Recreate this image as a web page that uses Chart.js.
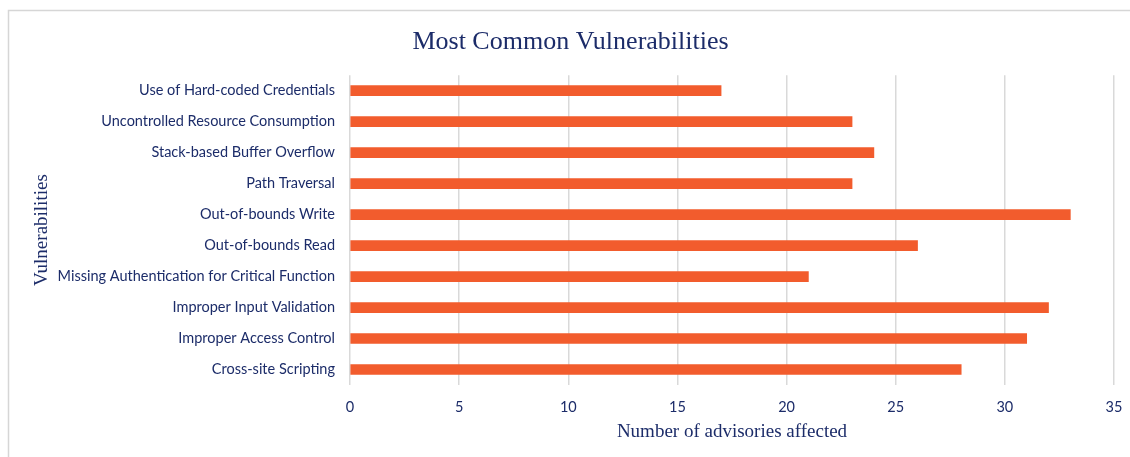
<!DOCTYPE html>
<html>
<head>
<meta charset="utf-8">
<script src="https://cdn.jsdelivr.net/npm/chart.js@4"></script>
<style>
  html, body { margin: 0; padding: 0; background: #ffffff; }
  #wrap { width: 1130px; height: 457px; }
</style>
</head>
<body>
<div id="wrap"><canvas id="chart1" width="1130" height="457"></canvas></div>
<script>
// vulnerability types, top to bottom
var categories = [
  "Use of Hard-coded Credentials",
  "Uncontrolled Resource Consumption",
  "Stack-based Buffer Overflow",
  "Path Traversal",
  "Out-of-bounds Write",
  "Out-of-bounds Read",
  "Missing Authentication for Critical Function",
  "Improper Input Validation",
  "Improper Access Control",
  "Cross-site Scripting",
];
var advisories = [17, 23, 24, 23, 33, 26, 21, 32, 31, 28];
var xTicks = [0, 5, 10, 15, 20, 25, 30, 35];

var navy = "#1c2c69";
var serif = "'Liberation Serif', 'DejaVu Serif', serif";
var sans = "Lato, 'Open Sans', sans-serif";

// thin grey frame around the whole chart
var frame = {
  id: "frame",
  beforeDraw: function (chart) {
    var c = chart.ctx;
    c.save();
    c.strokeStyle = "#d6d6d6";
    c.lineWidth = 1.5;
    c.strokeRect(8.5, 10.5, 1140, 470);
    c.restore();
  },
};

var ctx = document.getElementById("chart1").getContext("2d");
var myChart = new Chart(ctx, {
  type: "bar",
  data: {
    labels: categories,
    datasets: [
      {
        label: "Number of advisories affected",
        data: advisories,
        backgroundColor: "#f25c2d",
        barThickness: 10,
      },
    ],
  },
  options: {
    indexAxis: "y",
    responsive: false,
    animation: false,
    layout: { padding: { left: 27, right: 16, top: 27, bottom: 0 } },
    plugins: {
      legend: { display: false },
      tooltip: { enabled: false },
      title: {
        display: true,
        text: "Most Common Vulnerabilities",
        color: navy,
        font: { family: serif, size: 26, weight: "normal" },
        padding: { top: 0, bottom: 17 },
      },
    },
    scales: {
      x: {
        min: 0,
        max: 35,
        afterBuildTicks: function (scale) {
          scale.ticks = xTicks.map(function (v) { return { value: v }; });
        },
        afterFit: function (scale) {
          scale.height = 72;
          scale.paddingLeft = 0;
          scale.paddingRight = 0;
        },
        grid: { color: "#d9d9d9", lineWidth: 1.5, drawTicks: false },
        border: { display: false },
        ticks: { color: navy, font: { family: sans, size: 14.5 }, padding: 14 },
        title: {
          display: true,
          text: "Number of advisories affected",
          color: navy,
          font: { family: serif, size: 19 },
          padding: { top: 6, bottom: 14 },
        },
      },
      y: {
        afterFit: function (scale) { scale.width = 323; },
        grid: { display: false, drawTicks: false },
        border: { display: false },
        ticks: { color: navy, font: { family: sans, size: 14.5 }, padding: 15 },
        title: {
          display: true,
          text: "Vulnerabilities",
          color: navy,
          font: { family: serif, size: 19 },
          padding: { top: 4, bottom: 0 },
        },
      },
    },
  },
  plugins: [frame],
});
</script>
</body>
</html>
